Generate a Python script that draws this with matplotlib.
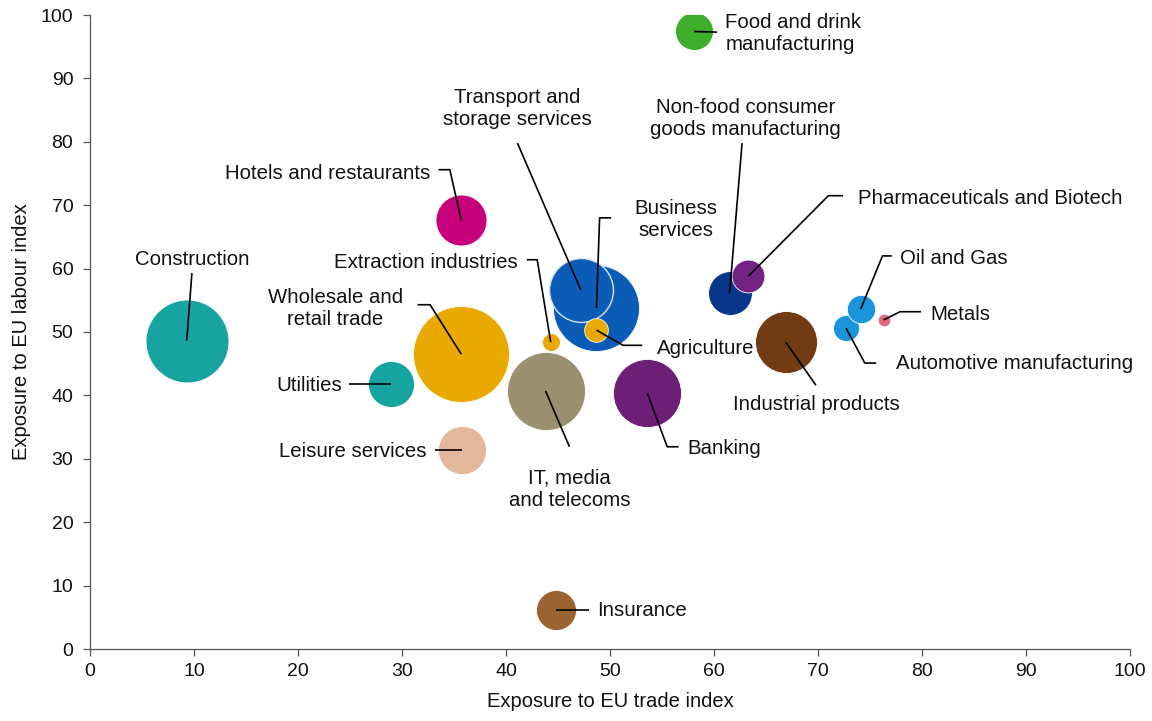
import matplotlib
matplotlib.use("Agg")
import matplotlib.pyplot as plt

plt.rcParams["font.family"] = ["Liberation Sans", "DejaVu Sans"]

# Sector data, listed in drawing order (later sectors sit on top)
sectors = [
    "Construction", "Utilities", "Leisure services", "Wholesale and\nretail trade",
    "Hotels and restaurants", "IT, media\nand telecoms", "Banking", "Insurance",
    "Business\nservices", "Transport and\nstorage services", "Agriculture",
    "Extraction industries", "Food and drink\nmanufacturing",
    "Non-food consumer\ngoods manufacturing", "Pharmaceuticals and Biotech",
    "Industrial products", "Automotive manufacturing", "Oil and Gas", "Metals",
]
eu_trade = [9.3, 28.9, 35.8, 35.7, 35.7, 43.8, 53.6, 44.8, 48.7, 47.2, 48.7,
            44.3, 58.1, 61.5, 63.3, 66.9, 72.7, 74.1, 76.3]
eu_labour = [48.6, 41.8, 31.4, 46.5, 67.6, 40.7, 40.3, 6.2, 53.8, 56.6, 50.3,
             48.4, 97.4, 56.1, 58.8, 48.4, 50.6, 53.6, 51.9]
sector_size = [172, 53, 58, 230, 65, 152, 116, 40, 185, 102, 14,
               8, 36, 48, 27, 96, 17, 20, 4]
colors = ["#17A3A0", "#17A3A0", "#E2B79E", "#EAA900", "#C7007B", "#9A8F6F",
          "#6D1F78", "#9A6331", "#0B5CB7", "#0B5CB7", "#EAA900", "#EAA900",
          "#3EAE2C", "#07368A", "#722383", "#713C14", "#1A95DB", "#1A95DB",
          "#E0697D"]

# Label placement: (text x, text y, ha, leader points from the label toward the bubble)
label_layout = {
    "Construction": (9.8, 61.5, "center", [(9.8, 59.3)]),
    "Utilities": (24.2, 41.5, "right", [(24.9, 41.8)]),
    "Leisure services": (32.4, 31.1, "right", [(33.2, 31.4)]),
    "Wholesale and\nretail trade": (23.6, 53.7, "center", [(31.5, 54.3), (32.7, 54.3)]),
    "Hotels and restaurants": (32.7, 75.0, "right", [(33.5, 75.6), (34.6, 75.6)]),
    "IT, media\nand telecoms": (46.1, 25.2, "center", [(46.1, 31.9)]),
    "Banking": (57.4, 31.6, "left", [(56.6, 31.9), (55.5, 31.9)]),
    "Insurance": (48.8, 6.1, "left", [(48.0, 6.2)]),
    "Business\nservices": (56.3, 67.8, "center", [(50.1, 68.0), (49.0, 68.0)]),
    "Transport and\nstorage services": (41.1, 85.3, "center", [(41.1, 79.8)]),
    "Agriculture": (54.5, 47.4, "left", [(53.1, 47.9), (51.25, 47.9)]),
    "Extraction industries": (41.1, 60.9, "right", [(42.0, 61.4), (43.0, 61.4)]),
    "Food and drink\nmanufacturing": (61.1, 97.1, "left", [(60.3, 97.3)]),
    "Non-food consumer\ngoods manufacturing": (63.0, 83.7, "center", [(62.7, 79.8)]),
    "Pharmaceuticals and Biotech": (73.8, 71.0, "left", [(72.4, 71.5), (71.0, 71.5)]),
    "Industrial products": (69.8, 38.5, "center", [(69.8, 41.6)]),
    "Automotive manufacturing": (77.5, 45.0, "left", [(75.6, 45.1), (74.5, 45.1)]),
    "Oil and Gas": (77.9, 61.6, "left", [(77.1, 62.0), (76.2, 62.0)]),
    "Metals": (80.8, 52.7, "left", [(79.9, 53.2), (77.9, 53.2)]),
}

DPI = 100
fig = plt.figure(figsize=(11.52, 7.21), dpi=DPI)
ax = fig.add_axes([90 / 1152, 72 / 721, 1040 / 1152, 634 / 721])

# bubble area in points^2
area = [v * 10 * (2 * 72 / DPI) ** 2 for v in sector_size]

for name, x, y, s, c in zip(sectors, eu_trade, eu_labour, area, colors):
    edge = "#D6E4F5" if name.startswith("Transport") else "white"
    lw = 1.0 if name.startswith("Transport") else 0.6
    ax.scatter([x], [y], s=s, color=c, edgecolors=edge, linewidths=lw, zorder=2)

for name, x, y in zip(sectors, eu_trade, eu_labour):
    tx, ty, ha, pts = label_layout[name]
    xs = [p[0] for p in pts] + [x]
    ys = [p[1] for p in pts] + [y]
    ax.plot(xs, ys, color="black", lw=1.2, zorder=4, solid_capstyle="butt")
    ax.text(tx, ty, name, ha=ha, va="center", fontsize=14.7, linespacing=1.2,
            color="#111111", zorder=5)

ax.set_xlim(0, 100)
ax.set_ylim(0, 100)
ax.set_xticks(range(0, 101, 10))
ax.set_yticks(range(0, 101, 10))
for side in ("top", "right"):
    ax.spines[side].set_visible(False)
for side in ("left", "bottom"):
    ax.spines[side].set_color("#555555")
    ax.spines[side].set_linewidth(0.9)
ax.tick_params(axis="both", direction="out", length=5, width=0.9, color="#555555",
               labelsize=14, labelcolor="#111111")
ax.tick_params(axis="y", pad=7)
ax.tick_params(axis="x", pad=5)
ax.set_xlabel("Exposure to EU trade index", fontsize=14.5, color="#111111", labelpad=9)
ax.set_ylabel("Exposure to EU labour index", fontsize=14.5, color="#111111", labelpad=7)

fig.savefig("out.png", dpi=DPI)
